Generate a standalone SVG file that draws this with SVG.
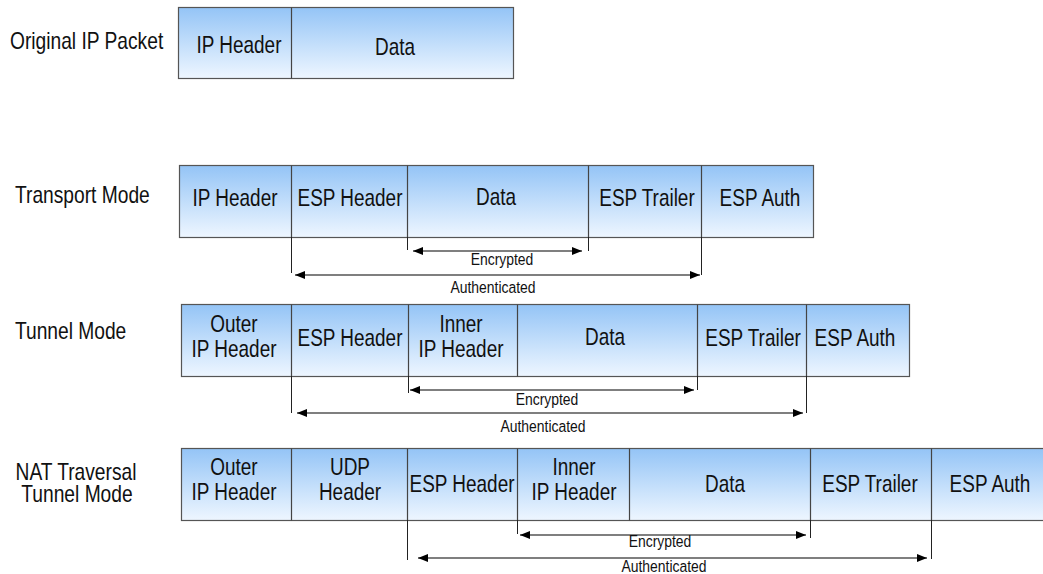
<svg xmlns="http://www.w3.org/2000/svg" width="1043" height="574" viewBox="0 0 1043 574">
  <defs>
    <linearGradient id="cell" x1="0" y1="0" x2="0" y2="1">
      <stop offset="0" stop-color="#94c4f6"/>
      <stop offset="0.55" stop-color="#c6e0fb"/>
      <stop offset="1" stop-color="#eef6ff"/>
    </linearGradient>
    <marker id="head" viewBox="0 0 10 8" refX="10" refY="4" markerWidth="10" markerHeight="8" markerUnits="userSpaceOnUse" orient="auto-start-reverse">
      <path d="M0,0 L10,4 L0,8 Z" fill="#000"/>
    </marker>
  </defs>
  <style>
    text { font-family: "Liberation Sans", Arial, sans-serif; fill: #111; transform-box: fill-box; }
    .row { fill: url(#cell); stroke: #555; stroke-width: 1.2; }
    .div { stroke: #444; stroke-width: 1.2; }
    /* condensed lettering: horizontal squeeze around each label */
    .cell { font-size: 24px; text-anchor: middle; transform-origin: center; transform: scaleX(0.79); }
    .title { font-size: 24px; transform-origin: left center; transform: scaleX(0.8); }
    .title-c { font-size: 24px; text-anchor: middle; transform-origin: center; transform: scaleX(0.8); }
    .span { font-size: 17px; text-anchor: middle; transform-origin: center; transform: scaleX(0.82); }
    .tick { stroke: #222; stroke-width: 1; }
    .arrow { stroke: #000; stroke-width: 1.2; marker-start: url(#head); marker-end: url(#head); }
  </style>

  <!-- row titles -->
  <g id="titles">
    <text class="title" x="10" y="49">Original IP Packet</text>
    <text class="title" x="15" y="203">Transport Mode</text>
    <text class="title" x="15" y="339">Tunnel Mode</text>
    <text class="title-c" x="76" y="480">NAT Traversal</text>
    <text class="title-c" x="77" y="502">Tunnel Mode</text>
  </g>

  <!-- original packet -->
  <g id="original">
    <rect class="row" x="178.5" y="7.5" width="335" height="71"/>
    <line class="div" x1="291.5" y1="7.5" x2="291.5" y2="78.5"/>
    <text class="cell" x="239" y="53">IP Header</text>
    <text class="cell" x="395" y="55">Data</text>
  </g>

  <!-- transport mode -->
  <g id="transport">
    <rect class="row" x="179.5" y="165.5" width="634" height="72"/>
    <line class="div" x1="291.5" y1="165.5" x2="291.5" y2="237.5"/>
    <line class="div" x1="407.5" y1="165.5" x2="407.5" y2="237.5"/>
    <line class="div" x1="588.5" y1="165.5" x2="588.5" y2="237.5"/>
    <line class="div" x1="701.5" y1="165.5" x2="701.5" y2="237.5"/>
    <text class="cell" x="235" y="206">IP Header</text>
    <text class="cell" x="350" y="206">ESP Header</text>
    <text class="cell" x="496" y="205">Data</text>
    <text class="cell" x="647" y="206">ESP Trailer</text>
    <text class="cell" x="760" y="206">ESP Auth</text>
  </g>

  <!-- tunnel mode -->
  <g id="tunnel">
    <rect class="row" x="181.5" y="304.5" width="728" height="72"/>
    <line class="div" x1="291.5" y1="304.5" x2="291.5" y2="376.5"/>
    <line class="div" x1="408.5" y1="304.5" x2="408.5" y2="376.5"/>
    <line class="div" x1="517.5" y1="304.5" x2="517.5" y2="376.5"/>
    <line class="div" x1="697.5" y1="304.5" x2="697.5" y2="376.5"/>
    <line class="div" x1="806.5" y1="304.5" x2="806.5" y2="376.5"/>
    <text class="cell" x="234" y="332">Outer</text>
    <text class="cell" x="234" y="357">IP Header</text>
    <text class="cell" x="350" y="346">ESP Header</text>
    <text class="cell" x="461" y="332">Inner</text>
    <text class="cell" x="461" y="357">IP Header</text>
    <text class="cell" x="605" y="345">Data</text>
    <text class="cell" x="753" y="346">ESP Trailer</text>
    <text class="cell" x="855" y="346">ESP Auth</text>
  </g>

  <!-- NAT traversal tunnel mode -->
  <g id="nat">
    <rect class="row" x="181.5" y="448.5" width="864" height="72"/>
    <line class="div" x1="291.5" y1="448.5" x2="291.5" y2="520.5"/>
    <line class="div" x1="407.5" y1="448.5" x2="407.5" y2="520.5"/>
    <line class="div" x1="517.5" y1="448.5" x2="517.5" y2="520.5"/>
    <line class="div" x1="629.5" y1="448.5" x2="629.5" y2="520.5"/>
    <line class="div" x1="810.5" y1="448.5" x2="810.5" y2="520.5"/>
    <line class="div" x1="931.5" y1="448.5" x2="931.5" y2="520.5"/>
    <text class="cell" x="234" y="475">Outer</text>
    <text class="cell" x="234" y="500">IP Header</text>
    <text class="cell" x="350" y="475">UDP</text>
    <text class="cell" x="350" y="500">Header</text>
    <text class="cell" x="462" y="492">ESP Header</text>
    <text class="cell" x="574" y="475">Inner</text>
    <text class="cell" x="574" y="500">IP Header</text>
    <text class="cell" x="725" y="492">Data</text>
    <text class="cell" x="870" y="492">ESP Trailer</text>
    <text class="cell" x="990" y="492">ESP Auth</text>
  </g>

  <!-- coverage spans -->
  <g id="connectors">
    <line class="tick" x1="407.5" y1="237" x2="407.5" y2="250"/>
    <line class="tick" x1="588.5" y1="237" x2="588.5" y2="251"/>
    <line class="arrow" x1="413" y1="251" x2="582" y2="251"/>
    <text class="span" x="502" y="265">Encrypted</text>
    <line class="tick" x1="291.5" y1="237" x2="291.5" y2="273"/>
    <line class="tick" x1="701.5" y1="237" x2="701.5" y2="275"/>
    <line class="arrow" x1="295" y1="275" x2="700" y2="275"/>
    <text class="span" x="493" y="293">Authenticated</text>

    <line class="tick" x1="408.5" y1="376" x2="408.5" y2="393"/>
    <line class="tick" x1="697.5" y1="376" x2="697.5" y2="390"/>
    <line class="arrow" x1="410" y1="390" x2="694" y2="390"/>
    <text class="span" x="547" y="405">Encrypted</text>
    <line class="tick" x1="291.5" y1="376" x2="291.5" y2="413"/>
    <line class="tick" x1="806.5" y1="376" x2="806.5" y2="413"/>
    <line class="arrow" x1="297" y1="413" x2="803" y2="413"/>
    <text class="span" x="543" y="432">Authenticated</text>

    <line class="tick" x1="517.5" y1="520" x2="517.5" y2="534"/>
    <line class="tick" x1="810.5" y1="520" x2="810.5" y2="538"/>
    <line class="arrow" x1="520" y1="535" x2="806" y2="535"/>
    <text class="span" x="660" y="547">Encrypted</text>
    <line class="tick" x1="407.5" y1="520" x2="407.5" y2="560"/>
    <line class="tick" x1="931.5" y1="520" x2="931.5" y2="559"/>
    <line class="arrow" x1="418" y1="558" x2="927" y2="558"/>
    <text class="span" x="664" y="572">Authenticated</text>
  </g>
</svg>
